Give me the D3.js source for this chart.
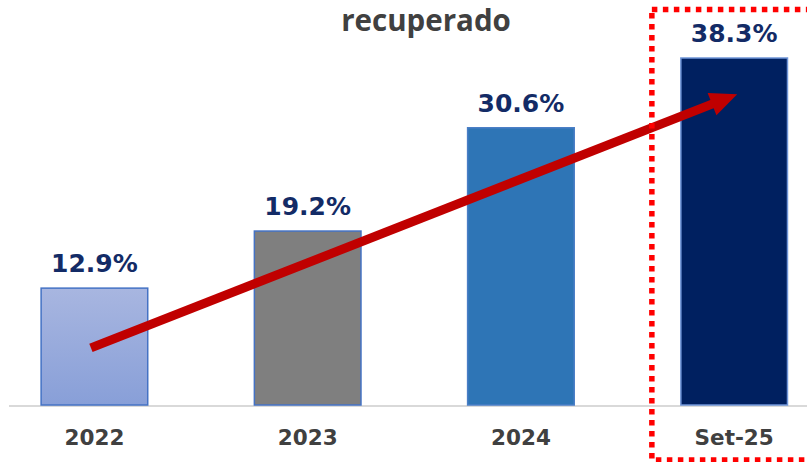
<!DOCTYPE html>
<html><head><meta charset="utf-8">
<script src="https://cdn.jsdelivr.net/npm/d3@7"></script>
<style>body{margin:0;background:#fff;}svg{display:block;}</style>
</head><body>
<svg id="c" width="807" height="462"></svg>
<script>
const title = "recuperado";
const categories = ["2022", "2023", "2024", "Set-25"];
const values = [12.9, 19.2, 30.6, 38.3];
const valueLabels = ["12.9%", "19.2%", "30.6%", "38.3%"];
const barColors = ["url(#g2022)", "#7F7F7F", "#2E75B6", "#002060"];
const barStrokes = ["#4472C4", "#4472C4", "#4A7EC6", "#6F95D8"];
// arrow runs from inside first bar to inside last bar (in data terms)
const arrowFrom = {cat: "2022", val: 6.3};
const arrowTo = {cat: "Set-25", val: 34.3};

const svg = d3.select("#c");
const W = 807, H = 462;
const baseY = 405;

const defs = svg.append("defs");
const g = defs.append("linearGradient").attr("id","g2022").attr("x1",0).attr("y1",0).attr("x2",0).attr("y2",1);
g.append("stop").attr("offset","0%").attr("stop-color","#A8B6E0");
g.append("stop").attr("offset","100%").attr("stop-color","#889FD8");

const x = d3.scaleBand().domain(categories).range([-12.2, 840.8]).paddingInner(0.5).paddingOuter(0.25);
const y = d3.scaleLinear().domain([0, 38.3]).range([baseY, 58]);

// axis line
svg.append("line").attr("x1", 9).attr("x2", W).attr("y1", baseY+1).attr("y2", baseY+1)
  .attr("stroke", "#D9D9D9").attr("stroke-width", 2);

// bars
svg.selectAll("rect.bar").data(values).join("rect").attr("class","bar")
  .attr("x", (d,i) => x(categories[i]))
  .attr("width", x.bandwidth())
  .attr("y", d => y(d))
  .attr("height", d => baseY - y(d))
  .attr("fill", (d,i) => barColors[i])
  .attr("stroke", (d,i) => barStrokes[i])
  .attr("stroke-width", 1.5);

// value labels
svg.selectAll("text.val").data(values).join("text").attr("class","val")
  .attr("x", (d,i) => x(categories[i]) + x.bandwidth()/2)
  .attr("y", d => y(d) - 16)
  .attr("text-anchor","middle")
  .attr("font-family","'DejaVu Sans', Verdana, sans-serif")
  .attr("font-weight","bold").attr("font-size", 25)
  .attr("fill","#132B66")
  .text((d,i) => valueLabels[i]);

// category labels
svg.selectAll("text.cat").data(categories).join("text").attr("class","cat")
  .attr("x", d => x(d) + x.bandwidth()/2)
  .attr("y", 445)
  .attr("text-anchor","middle")
  .attr("font-family","'DejaVu Sans', Verdana, sans-serif")
  .attr("font-weight","bold").attr("font-size", 21.5)
  .attr("fill","#404040")
  .text(d => d);

// title
svg.append("text").attr("x", 426).attr("y", 31).attr("text-anchor","middle")
  .attr("font-family","'Open Sans', sans-serif").attr("font-weight","bold").attr("font-size", 29.5)
  .attr("fill","#404040").text(title);

// arrow
const x0 = x(arrowFrom.cat) + x.bandwidth()/2 - 3.5, y0 = y(arrowFrom.val);
const x1 = x(arrowTo.cat) + x.bandwidth()/2 + 3, y1 = y(arrowTo.val);
const ang = Math.atan2(y1 - y0, x1 - x0);
const headLen = 27, headHalf = 12;
const bx = x1 - headLen*Math.cos(ang), by = y1 - headLen*Math.sin(ang);
svg.append("line").attr("x1", x0).attr("y1", y0).attr("x2", bx + 2*Math.cos(ang)).attr("y2", by + 2*Math.sin(ang))
  .attr("stroke","#C00000").attr("stroke-width", 9);
const px = -Math.sin(ang), py = Math.cos(ang);
svg.append("path").attr("d", `M${x1},${y1}L${bx+px*headHalf},${by+py*headHalf}L${bx-px*headHalf},${by-py*headHalf}Z`)
  .attr("fill","#C00000");

// dotted highlight box
const bxL = x("Set-25") - 29;
svg.append("rect").attr("x", bxL).attr("y", 9.5).attr("width", 170).attr("height", 450.5)
  .attr("fill","none").attr("stroke","#FF0000").attr("stroke-width", 5.5)
  .attr("stroke-dasharray","5.5 5.5");
</script>
</body></html>
